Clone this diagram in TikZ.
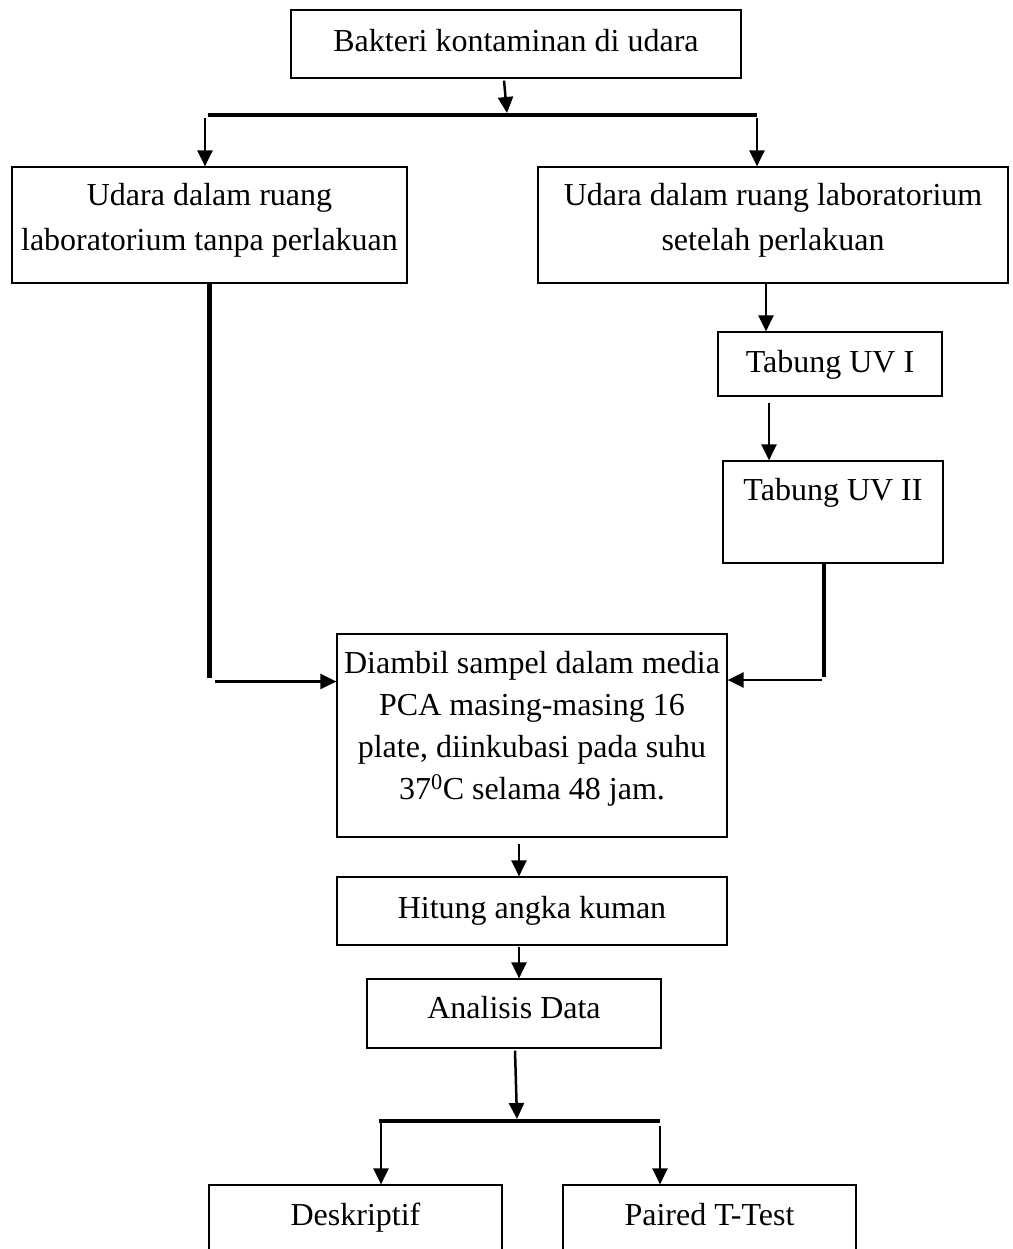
\documentclass[tikz,border=0pt]{standalone}
\usepackage{fontspec}
\setmainfont{Liberation Serif}
\usetikzlibrary{arrows.meta}
\newcommand{\bxtext}[2]{\raisebox{#1pt}[0pt][0pt]{\begin{tabular}[t]{@{}c@{}}#2\end{tabular}}}
\tikzset{
  box/.style={draw, line width=1.2pt, inner sep=0pt, font=\fontsize{32}{42}\selectfont},
  widebox/.style={box, font=\fontsize{32}{45}\selectfont},
  arr/.style={line width=2.5pt, -{Triangle[length=16pt,width=15pt]}},
  bar/.style={line width=4.5pt}
}
\begin{document}
\begin{tikzpicture}[x=1pt,y=-1pt]
\clip (0,0) rectangle (1012,1249);
\fill[white] (0,0) rectangle (1012,1249);

% boxes
\node[box, minimum width=450pt, minimum height=68pt] (top) at (516,44) {\bxtext{-8}{Bakteri kontaminan di udara}};
\node[widebox, minimum width=395pt, minimum height=116pt] (left) at (209.5,225) {\bxtext{19}{Udara dalam ruang\\laboratorium tanpa perlakuan}};
\node[widebox, minimum width=470pt, minimum height=116pt] (right) at (773,225) {\bxtext{19}{Udara dalam ruang laboratorium\\setelah perlakuan}};
\node[box, minimum width=224pt, minimum height=64pt] (uv1) at (830,364) {\bxtext{-8}{Tabung UV I}};
\node[box, minimum width=220pt, minimum height=102pt] (uv2) at (833,512) {\bxtext{12}{Tabung UV II}};
\node[box, minimum width=390pt, minimum height=203pt] (center) at (532,735.5) {\bxtext{62.5}{Diambil sampel dalam media\\PCA masing-masing 16\\plate, diinkubasi pada suhu\\37\textsuperscript{0}C selama 48 jam.}};
\node[box, minimum width=390pt, minimum height=68pt] (hitung) at (532,911) {\bxtext{-7}{Hitung angka kuman}};
\node[box, minimum width=294pt, minimum height=69pt] (analisis) at (514,1013.5) {\bxtext{-4.5}{Analisis Data}};
\node[box, minimum width=293pt, minimum height=100pt] (desk) at (355.5,1235) {\bxtext{10}{Deskriptif}};
\node[box, minimum width=293pt, minimum height=100pt] (paired) at (709.5,1235) {\bxtext{10}{Paired T-Test}};

% top split
\coordinate (barTL) at (208,115);
\coordinate (barTR) at (757,115);
\coordinate (barTM) at (507,113);
\draw[arr] ([xshift=-12pt,yshift=-2pt]top.south) -- (barTM);
\draw[bar] (barTL) -- (barTR);
\draw[arr] (205,118) -- ([xshift=-4.5pt]left.north);
\draw[arr] (757,118) -- ([xshift=-16pt]right.north);

% left branch
\coordinate (lcorner) at (209.5,678);
\draw[bar] (left.south) -- (lcorner);
\coordinate (lstart) at (215,681.5);
\draw[arr] (lstart) -- (center.west |- lstart);

% right branch
\draw[arr] ([xshift=-7pt]right.south) -- ([xshift=-64pt]uv1.north);
\draw[arr] ([xshift=-61pt,yshift=-6pt]uv1.south) -- ([xshift=-64pt]uv2.north);
\coordinate (rcorner) at (824,677);
\draw[bar] ([xshift=-9pt]uv2.south) -- (rcorner);
\coordinate (rstart) at (822,680);
\draw[arr] (rstart) -- (center.east |- rstart);

% lower chain
\draw[arr] ([xshift=-13pt,yshift=-6pt]center.south) -- ([xshift=-13pt]hitung.north);
\draw[arr] ([xshift=-13pt,yshift=-1pt]hitung.south) -- ([xshift=5pt]analisis.north);

% bottom split
\coordinate (barBL) at (379,1121);
\coordinate (barBR) at (660,1121);
\coordinate (barBM) at (517,1119);
\draw[arr] ([xshift=1pt,yshift=-2pt]analisis.south) -- (barBM);
\draw[bar] (barBL) -- (barBR);
\draw[arr] (381,1123) -- ([xshift=25.5pt]desk.north);
\draw[arr] (660,1126) -- ([xshift=-49.5pt]paired.north);
\end{tikzpicture}
\end{document}
